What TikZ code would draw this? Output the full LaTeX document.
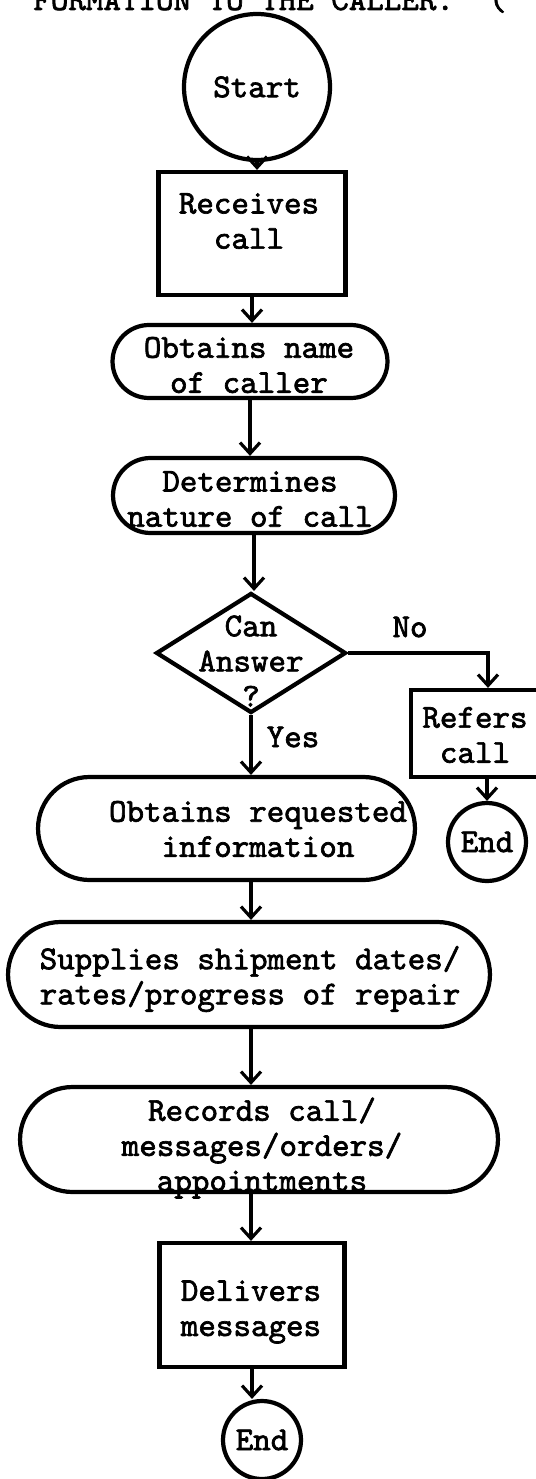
\documentclass[tikz,border=0pt]{standalone}
\usepackage{fontspec}
\usetikzlibrary{shapes.geometric,shapes.misc,arrows.meta}
\newfontfamily\typefam{lmmono10-regular.otf}[FakeBold=2]
\newcommand\typewriter{\typefam\fontsize{19}{20}\selectfont}
\begin{document}
\begin{tikzpicture}[x=0.02cm,y=-0.02cm,
  every node/.style={font=\typewriter},
  outline/.style={draw, line width=2.4pt, inner sep=0pt},
  box/.style={outline, rectangle},
  pill/.style={outline, rounded rectangle},
  term/.style={outline, circle},
  choice/.style={outline, diamond},
  txt/.style={align=center, inner sep=0pt},
  flow/.style={line width=1.8pt, -{Straight Barb[length=2.2mm,width=4mm]}}
]
\useasboundingbox (0,0) rectangle (535,1479);

% heading line, cut by the page edge
\node[anchor=base west, inner sep=0pt] (head) at (33,10) {FORMATION TO THE CALLER.\ \ (};

% shapes
\node[term, minimum size=2.92cm] (start) at (257,87) {Start};
\node[box, minimum width=3.74cm, minimum height=2.46cm] (recv) at (252,233.5) {};
\node[pill, minimum width=5.5cm, minimum height=1.46cm] (name) at (250,361.5) {};
\node[pill, minimum width=5.64cm, minimum height=1.5cm] (nature) at (254,495.5) {};
\node[choice, minimum width=3.8cm, minimum height=2.4cm] (q) at (251,653) {};
\node[box, minimum width=2.56cm, minimum height=1.74cm] (refer) at (475,733.5) {};
\node[term, minimum size=1.56cm] (end1) at (487,842) {End};
\node[pill, minimum width=7.54cm, minimum height=2.06cm] (info) at (226.5,828.5) {};
\node[pill, minimum width=9.64cm, minimum height=2.1cm] (sup) at (249,974.5) {};
\node[pill, minimum width=9.56cm, minimum height=2.1cm] (rec) at (259,1139.5) {};
\node[box, minimum width=3.7cm, minimum height=2.48cm] (deliv) at (252,1305) {};
\node[term, minimum size=1.56cm] (end2) at (262,1440) {End};

% texts
\node[txt] (recvT) at (249,221) {Receives\\call};
\node[txt] (nameT) at (249,365) {Obtains name\\of caller};
\node[txt] (natureT) at (250,499) {Determines\\nature of call};
\node[txt] (qT) at (251,661) {Can\\Answer\\?};
\node[txt] (referT) at (475,735) {Refers\\call};
\node[txt] (infoT) at (258,829) {Obtains requested\\information};
\node[txt] (supT) at (250,979) {Supplies shipment dates/\\rates/progress of repair};
\node[txt] (recT) at (262,1148) {Records call/\\messages/orders/\\appointments};
\node[txt] (delivT) at (251,1312) {Delivers\\messages};
\node[txt] (noT) at (410,627) {No};
\node[txt] (yesT) at (293,737) {Yes};

% connectors
\draw[flow] (start.south) -- (start.south |- recv.north);
\draw[flow] (recv.south) -- (recv.south |- name.north);
\draw[flow] (name.south) -- (name.south |- nature.north);
\draw[flow] (nature.south) -- (nature.south |- q.north);
\draw[flow] (q.east) -| ([xshift=0.26cm]refer.north);
\draw[flow] (end1.north |- refer.south) -- (end1.north);
\draw[flow] (q.south) -- (q.south |- info.north);
\draw[flow] (info.south -| q.south) -- (q.south |- sup.north);
\draw[flow] (sup.south -| q.south) -- (q.south |- rec.north);
\draw[flow] (rec.south -| q.south) -- (q.south |- deliv.north);
\draw[flow] (deliv.south) -- (deliv.south |- end2.north);
\end{tikzpicture}
\end{document}
